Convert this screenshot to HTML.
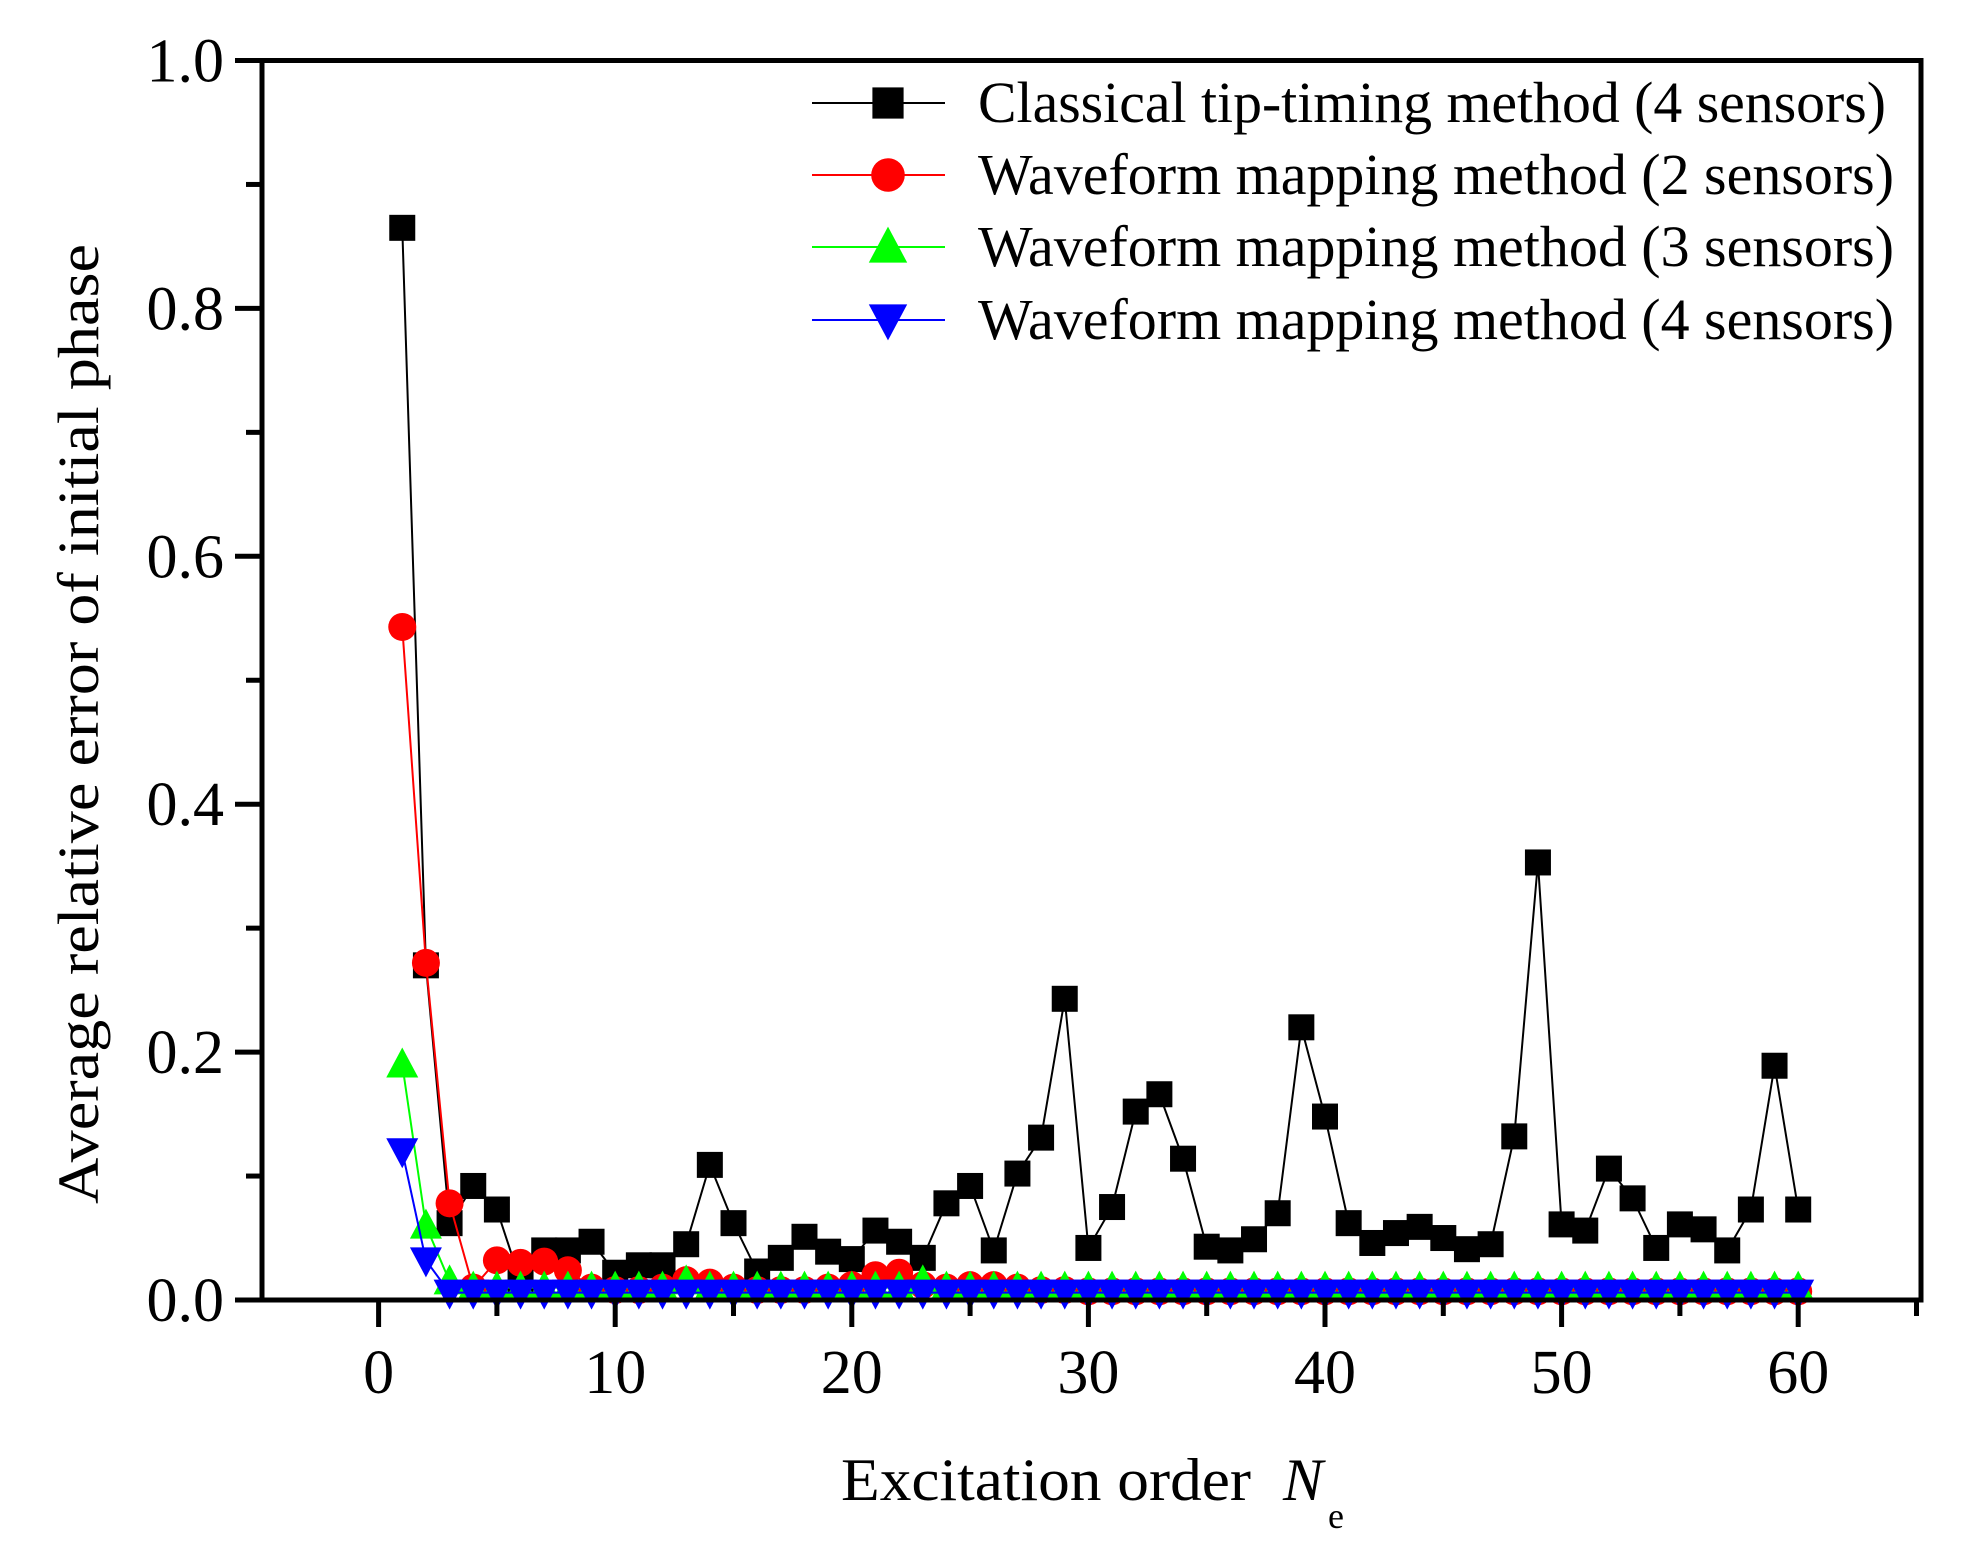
<!DOCTYPE html>
<html><head><meta charset="utf-8"><style>
html,body{margin:0;padding:0;background:#fff}
svg{display:block}
text{font-family:"Liberation Serif",serif;fill:#000}
</style></head><body>
<svg id="s" width="1965" height="1545" xmlns="http://www.w3.org/2000/svg">
<rect width="1965" height="1545" fill="#fff"/>
<g id="data"></g>
<rect x="262" y="60.5" width="1659" height="1239.5" fill="none" stroke="#000" stroke-width="5"/>
<g id="ticks" stroke="#000" stroke-width="5"></g>
<g font-size="62" text-anchor="end" id="ylab"></g>
<g font-size="62" text-anchor="middle" id="xlab"></g>
<text x="841" y="1500" font-size="60" textLength="410" lengthAdjust="spacingAndGlyphs">Excitation order</text>
<text x="1283" y="1500" font-size="60" font-style="italic">N</text>
<text x="1328" y="1528" font-size="36">e</text>
<text transform="translate(98,724) rotate(-90)" font-size="58" text-anchor="middle" textLength="960" lengthAdjust="spacingAndGlyphs">Average relative error of initial phase</text>
<g id="leg" font-size="58"></g>
</svg>
<script>
var NS="http://www.w3.org/2000/svg";
function el(p,t,a){var e=document.createElementNS(NS,t);for(var k in a)e.setAttribute(k,a[k]);p.appendChild(e);return e;}
function X(v){return 378.6+v*23.66;}
function Y(v){return 1300-v*1239.5;}
var tk=document.getElementById('ticks');
for(var v=-5;v<=65;v+=5){var x=X(v);if(x<262||x>1921)continue;el(tk,'line',{x1:x,y1:1300,x2:x,y2:(v%10==0?1327:1316)});}
for(var i=0;i<=10;i++){var y=Y(i/10);el(tk,'line',{x1:262,y1:y,x2:(i%2==0?235:246),y2:y});}
var yl=document.getElementById('ylab');
for(var i=0;i<=5;i++){el(yl,'text',{x:224,y:Y(i*0.2)+21}).textContent=(i*0.2).toFixed(1);}
var xl=document.getElementById('xlab');
for(var v=0;v<=60;v+=10){el(xl,'text',{x:X(v),y:1393}).textContent=v;}
var blk=[0.865,0.27,0.062,0.092,0.073,0.015,0.04,0.04,0.047,0.022,0.028,0.028,0.045,0.109,0.062,0.023,0.034,0.051,0.039,0.033,0.056,0.047,0.034,0.078,0.092,0.04,0.102,0.131,0.243,0.042,0.075,0.152,0.166,0.114,0.043,0.04,0.049,0.07,0.22,0.148,0.062,0.046,0.054,0.059,0.05,0.041,0.045,0.132,0.353,0.061,0.056,0.106,0.082,0.042,0.061,0.057,0.04,0.073,0.189,0.073];
var red=[0.543,0.272,0.078,0.01,0.032,0.03,0.031,0.024,0.01,0.008,0.008,0.01,0.016,0.014,0.01,0.008,0.008,0.008,0.01,0.012,0.02,0.022,0.012,0.01,0.012,0.012,0.01,0.008,0.008,0.007,0.007,0.007,0.007,0.007,0.007,0.007,0.007,0.007,0.007,0.007,0.007,0.007,0.007,0.007,0.007,0.007,0.007,0.007,0.007,0.007,0.007,0.007,0.007,0.007,0.007,0.007,0.007,0.007,0.007,0.007];
var grn=[0.19,0.06,0.015];for(var i=3;i<60;i++)grn.push(i==12||i==22?0.015:0.01);
var blu=[0.12,0.032,0.006];for(var i=3;i<60;i++)blu.push(0.006);
var g=document.getElementById('data');
function mark(p,type,x,y,c,s){s=s||1;
 if(type=='sq')el(p,'rect',{x:x-13*s,y:y-13*s,width:26*s,height:26*s,fill:c});
 else if(type=='ci')el(p,'circle',{cx:x,cy:y,r:14*s,fill:c});
 else if(type=='up')el(p,'polygon',{points:(x)+','+(y-17*s)+' '+(x+16*s)+','+(y+13*s)+' '+(x-16*s)+','+(y+13*s),fill:c});
 else el(p,'polygon',{points:(x)+','+(y+17*s)+' '+(x+16*s)+','+(y-13*s)+' '+(x-16*s)+','+(y-13*s),fill:c});
}
function series(d,type,c){
 var pts=d.map(function(v,i){return X(i+1)+','+Y(v);}).join(' ');
 el(g,'polyline',{points:pts,fill:'none',stroke:c,'stroke-width':2});
 d.forEach(function(v,i){mark(g,type,X(i+1),Y(v),c);});
}
series(blk,'sq','#000');series(red,'ci','#f00');series(grn,'up','#0f0');series(blu,'dn','#00f');
var lg=document.getElementById('leg');
var L=[['sq','#000','Classical tip-timing method (4 sensors)',103],['ci','#f00','Waveform mapping method (2 sensors)',175],['up','#0f0','Waveform mapping method (3 sensors)',247],['dn','#00f','Waveform mapping method (4 sensors)',320]];
L.forEach(function(r){el(lg,'line',{x1:812,y1:r[3],x2:945,y2:r[3],stroke:r[1],'stroke-width':2});mark(lg,r[0],888,r[3],r[1],1.2);
var t=el(lg,'text',{x:978,y:r[3]+19,textLength:(r[0]=='sq'?908:916),lengthAdjust:'spacingAndGlyphs'});t.textContent=r[2];});
</script>
</body></html>
